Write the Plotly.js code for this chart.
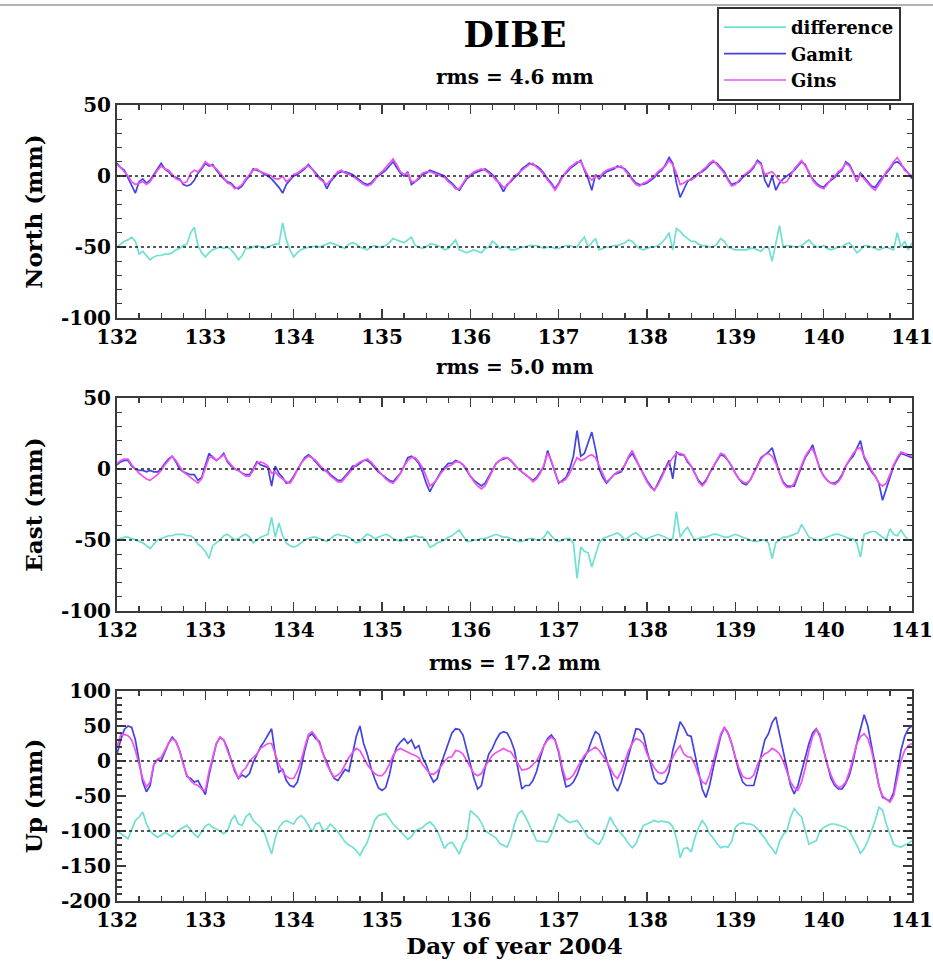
<!DOCTYPE html>
<html>
<head>
<meta charset="utf-8">
<script src="https://cdn.plot.ly/plotly-3.0.1.min.js"></script>
<style>html,body{margin:0;padding:0;background:#fff;}#chart{width:933px;height:964px;}</style>
</head>
<body>
<div id="chart"></div>
<script>
// ---------------- data (hourly samples, day of year 2004) ----------------
const startDay = 132;
const stepDay = 1 / 24;
const seriesNames = ["difference", "Gamit", "Gins"];
const xTickDays = [132, 133, 134, 135, 136, 137, 138, 139, 140, 141];
const neTickVals = [-100, -50, 0, 50];
const neTickText = ["-100", "-50", "0", "50"];
const upTickVals = [-200, -150, -100, -50, 0, 50, 100];
const upTickText = ["-200", "-150", "-100", "-50", "0", "50", "100"];
const rmsLabels = ["rms = 4.6 mm", "rms = 5.0 mm", "rms = 17.2 mm"];
const panelTitles = ["North (mm)", "East (mm)", "Up (mm)"];

const northGamit = [
 9,6,4,-1,-7,-12,-4,-2,-5,-3,1,5,9,5,3,0,-1,-2,-6,-7,-6,-3,2,5,
 9,7,8,4,1,-2,-4,-5,-8,-9,-7,-3,0,5,4,3,1,0,-2,-5,-8,-12,-6,-3,
 0,1,3,5,8,5,2,-1,-3,-9,-4,-1,2,3,3,2,1,-1,-3,-5,-6,-5,-2,0,
 2,4,7,10,6,2,0,3,-6,-4,-2,1,2,4,3,2,1,0,-3,-5,-8,-10,-6,-2,
 0,2,3,4,5,3,1,-2,-6,-11,-6,-4,-1,1,5,7,9,8,7,5,2,-2,-5,-9,
 -5,0,2,5,7,9,11,4,-2,-10,1,-2,1,3,4,5,7,6,5,2,-2,-5,-6,-6,
 -5,-3,-1,2,4,8,13,9,-5,-15,-9,-4,-2,0,2,3,5,8,10,9,6,3,-2,-6,
 -5,-4,-1,1,3,6,11,9,-3,-8,0,-10,-5,-2,0,2,4,7,10,8,2,-2,-5,-7,
 -8,-5,-3,-1,2,4,10,8,3,-4,2,-1,-4,-7,-8,-4,-1,2,5,9,10,8,5,2,
 -2
];
const northGins = [
 8,6,3,0,-4,-6,-5,-4,-6,-4,0,4,7,5,4,1,-2,-3,-5,-4,2,4,3,6,
 10,8,7,5,2,-1,-5,-6,-9,-8,-6,-2,1,4,5,3,2,1,0,-2,-2,0,-4,-2,
 1,2,4,6,7,5,1,-2,-4,-6,-3,0,3,4,2,1,0,-2,-4,-6,-7,-6,-3,1,
 3,6,9,12,8,3,1,2,-4,-4,-1,2,3,3,2,1,0,-1,-4,-6,-9,-9,-5,-1,
 1,3,4,5,4,2,0,-3,-5,-8,-7,-3,0,2,4,6,8,9,6,4,1,-3,-6,-10,
 -6,-1,3,6,8,10,10,5,0,-3,0,-1,2,4,5,6,6,7,4,1,-3,-6,-7,-5,
 -4,-2,0,3,5,7,11,8,2,-6,-5,-3,-3,-1,1,4,6,9,11,8,5,2,-3,-7,
 -6,-3,0,2,4,7,10,8,1,2,3,0,-3,-5,-4,0,5,8,11,7,3,-3,-6,-8,
 -9,-6,-2,0,3,5,9,7,2,-3,1,-2,-5,-8,-10,-6,-2,3,6,10,13,9,4,2,
 0
];
const northDiff = [
 -50,-48,-46,-45,-43,-46,-55,-53,-56,-59,-57,-56,-56,-55,-55,-54,-52,-51,-49,-48,-40,-36,-49,-54,
 -57,-54,-52,-51,-50,-51,-50,-52,-55,-59,-56,-51,-51,-50,-49,-50,-51,-50,-49,-48,-48,-33,-45,-52,
 -57,-54,-52,-51,-50,-50,-49,-50,-49,-48,-47,-48,-49,-50,-51,-48,-47,-48,-50,-51,-52,-50,-49,-50,
 -50,-49,-47,-44,-45,-46,-47,-45,-43,-49,-50,-51,-50,-48,-48,-49,-50,-52,-51,-48,-45,-52,-53,-54,
 -53,-52,-53,-54,-51,-50,-46,-48,-51,-50,-50,-52,-52,-51,-50,-50,-49,-49,-49,-50,-51,-50,-50,-51,
 -51,-50,-49,-49,-50,-50,-46,-43,-50,-47,-44,-52,-51,-50,-50,-49,-49,-48,-47,-45,-46,-49,-51,-52,
 -51,-50,-50,-49,-47,-44,-40,-52,-37,-39,-42,-44,-46,-46,-48,-49,-49,-50,-50,-48,-44,-46,-50,-51,
 -52,-52,-52,-52,-51,-51,-52,-53,-50,-50,-60,-48,-35,-50,-49,-49,-50,-50,-49,-47,-45,-48,-50,-50,
 -49,-51,-52,-51,-50,-50,-48,-47,-50,-54,-52,-49,-49,-50,-51,-52,-51,-50,-51,-52,-40,-50,-46,-52,
 -47
];

const eastGamit = [
 3,5,6,6,2,0,-1,-1,-2,-1,-2,-2,0,4,7,9,5,0,-2,-3,-4,-4,-8,-6,
 3,11,8,6,8,11,5,2,0,-1,-3,-4,-4,0,5,3,2,1,-12,2,-3,-6,-10,-9,
 -5,0,4,8,10,8,5,2,-1,-1,-4,-6,-8,-8,-5,-2,2,2,4,6,6,4,1,-2,
 -4,-6,-8,-9,-6,-3,2,8,9,7,4,-2,-10,-16,-11,-6,-2,1,4,4,6,5,3,-1,
 -5,-8,-10,-12,-10,-5,0,4,6,7,8,6,3,0,-2,-4,-6,-8,-6,-2,2,13,5,-3,
 -10,-8,-6,0,9,27,9,11,18,26,14,0,-6,-10,-7,-4,-3,-2,3,8,11,6,1,-4,
 -8,-12,-15,-10,-5,0,6,-7,12,10,10,5,2,-3,-8,-11,-8,-3,2,6,10,9,6,2,
 -3,-7,-10,-11,-8,-3,3,8,10,12,15,5,-3,-9,-12,-12,-12,-5,2,8,12,17,8,0,
 -5,-8,-10,-10,-8,-4,2,6,9,14,20,8,3,-2,-5,-10,-22,-14,-5,2,7,11,10,9,
 8
];
const eastGins = [
 4,6,7,7,3,0,-3,-5,-7,-8,-6,-4,-1,3,6,9,6,2,-2,-4,-6,-8,-10,-7,
 0,8,9,6,8,10,6,3,0,-1,-3,-5,-5,-1,4,5,4,2,-3,-2,-5,-7,-9,-10,
 -6,-1,4,7,9,8,6,3,0,-2,-5,-7,-9,-9,-6,-3,0,3,5,6,7,5,2,-1,
 -4,-7,-9,-10,-7,-3,2,6,8,8,5,1,-5,-12,-10,-7,-3,0,2,3,5,5,3,0,
 -5,-9,-12,-14,-12,-7,-1,4,6,8,8,6,3,0,-2,-4,-6,-9,-7,-3,3,11,6,-2,
 -9,-9,-7,-3,3,8,6,7,9,10,8,2,-4,-9,-7,-4,-2,-1,3,9,13,7,1,-4,
 -9,-13,-15,-11,-6,0,4,8,11,11,10,6,2,-3,-9,-12,-9,-3,2,7,11,10,6,2,
 -3,-7,-9,-10,-8,-3,3,7,10,11,9,4,-3,-10,-13,-13,-10,-4,3,9,13,14,8,0,
 -5,-8,-10,-11,-9,-5,2,7,11,14,15,9,4,-1,-5,-10,-12,-10,-4,3,8,12,11,10,
 9
];
const eastDiff = [
 -50,-49,-48,-48,-49,-50,-51,-52,-54,-56,-53,-50,-49,-48,-47,-47,-46,-46,-46,-47,-47,-49,-53,-55,
 -58,-63,-54,-52,-50,-47,-46,-48,-50,-49,-47,-46,-48,-52,-50,-48,-47,-46,-34,-48,-38,-47,-52,-54,
 -55,-54,-52,-50,-49,-48,-48,-49,-50,-51,-49,-47,-46,-47,-47,-48,-50,-52,-51,-48,-46,-47,-49,-48,
 -47,-46,-47,-49,-50,-51,-50,-48,-48,-47,-48,-48,-50,-55,-54,-52,-51,-50,-48,-47,-45,-43,-47,-51,
 -51,-50,-50,-49,-49,-48,-47,-46,-47,-48,-48,-49,-50,-51,-51,-50,-49,-49,-50,-50,-48,-44,-47,-50,
 -51,-50,-49,-49,-52,-77,-55,-58,-59,-69,-60,-52,-49,-48,-47,-46,-45,-47,-50,-48,-46,-45,-47,-49,
 -49,-48,-47,-46,-47,-48,-50,-49,-30,-48,-44,-41,-46,-50,-49,-48,-48,-47,-46,-46,-47,-48,-48,-47,
 -46,-47,-48,-49,-50,-51,-51,-50,-50,-52,-63,-52,-50,-48,-48,-47,-46,-45,-39,-44,-48,-49,-50,-50,
 -49,-48,-47,-46,-46,-47,-48,-49,-49,-52,-62,-46,-45,-44,-44,-46,-48,-50,-42,-46,-47,-43,-47,-50,
 -50
];

const upGamit = [
 10,30,45,50,48,30,0,-30,-44,-35,-5,2,0,12,25,34,28,15,-5,-22,-25,-30,-28,-38,
 -48,-20,5,25,34,30,18,0,-15,-25,-20,-23,-18,-2,10,20,28,38,46,10,-16,-12,-28,-35,
 -37,-30,-10,15,35,39,32,28,10,-1,-15,-25,-28,-20,-12,-15,10,35,50,25,10,-10,-25,-38,
 -42,-38,-20,5,20,27,32,25,30,18,22,5,-5,-20,-30,-25,-5,10,25,40,46,45,37,15,
 -5,-25,-40,-35,-10,10,18,30,39,42,40,30,15,-10,-40,-35,-35,-28,-15,5,22,32,37,30,
 12,-15,-37,-35,-30,-20,-5,5,15,30,42,38,20,5,-15,-35,-43,-30,-10,10,30,46,45,38,
 15,-5,-25,-32,-33,-30,-15,15,35,56,48,37,35,10,-20,-40,-52,-35,-10,15,35,48,40,25,
 5,-15,-30,-35,-35,-35,-15,10,30,39,55,63,40,15,-10,-35,-47,-35,-15,5,25,40,46,35,
 15,-5,-25,-35,-40,-40,-32,-20,0,25,45,66,50,20,-10,-35,-52,-55,-57,-45,-15,15,35,46,
 50
];
const upGins = [
 20,37,38,36,30,15,-5,-25,-37,-30,-5,3,5,15,25,32,28,15,-5,-20,-28,-33,-35,-40,
 -42,-15,5,25,34,30,15,0,-12,-25,-15,-10,0,5,10,18,22,25,25,10,-5,-15,-22,-25,
 -25,-15,0,20,38,42,35,25,10,-5,-15,-23,-20,-15,-5,5,12,18,15,5,-5,-12,-18,-21,
 -21,-15,-5,8,15,18,15,12,10,8,5,-5,-12,-18,-19,-15,-8,0,5,6,15,14,10,0,
 -10,-18,-21,-18,-8,0,8,12,15,18,15,13,5,-5,-13,-12,-10,-5,0,10,22,30,34,30,
 15,-10,-27,-25,-20,-10,0,8,13,17,20,15,8,0,-10,-20,-25,-15,0,15,25,32,30,25,
 10,0,-10,-16,-18,-15,-5,5,15,22,10,6,5,-5,-20,-30,-33,-20,0,20,38,48,40,25,
 5,-10,-22,-25,-25,-20,-5,5,10,13,18,15,10,0,-15,-30,-38,-42,-30,-10,15,35,45,38,
 15,-5,-20,-32,-38,-36,-30,-15,5,25,35,39,32,15,-10,-35,-50,-55,-59,-50,-25,0,15,22,
 25
];
const upDiff = [
 -100,-104,-108,-111,-98,-85,-80,-73,-90,-100,-105,-109,-106,-102,-105,-109,-103,-98,-95,-92,-98,-105,-109,-100,
 -93,-90,-95,-97,-100,-104,-100,-85,-78,-90,-92,-80,-75,-85,-90,-95,-102,-118,-133,-110,-95,-88,-85,-88,
 -90,-82,-78,-83,-92,-101,-90,-88,-100,-97,-90,-95,-101,-108,-116,-120,-123,-128,-135,-125,-116,-100,-85,-78,
 -76,-75,-82,-90,-95,-100,-106,-112,-108,-100,-98,-95,-90,-87,-92,-100,-112,-125,-118,-116,-124,-133,-118,-110,
 -71,-75,-80,-88,-100,-103,-107,-110,-118,-120,-123,-110,-90,-75,-71,-80,-90,-102,-114,-115,-116,-116,-105,-90,
 -76,-80,-85,-88,-86,-85,-92,-100,-109,-112,-117,-119,-110,-95,-80,-90,-98,-104,-110,-118,-124,-118,-105,-92,
 -90,-88,-85,-87,-86,-87,-88,-94,-110,-138,-125,-124,-130,-110,-95,-85,-92,-104,-110,-118,-124,-122,-123,-115,
 -95,-90,-88,-90,-90,-92,-97,-104,-110,-119,-125,-133,-115,-105,-100,-80,-68,-75,-80,-100,-119,-116,-114,-100,
 -95,-92,-90,-90,-92,-94,-95,-100,-109,-120,-132,-125,-114,-100,-85,-66,-70,-90,-105,-119,-122,-123,-120,-118,
 -114
];

// reference (dotted) levels and axis ranges per panel
const northRefLevels = [0, -50];
const eastRefLevels = [0, -50];
const upRefLevels = [0, -100];
const northRange = [-100, 50];
const eastRange = [-100, 50];
const upRange = [-200, 100];
const dayRange = [132, 141];

// ---------------- styling ----------------
const W = 933, H = 964;
const colors = { difference: "#6fe0d3", Gamit: "#4343e3", Gins: "#ef52ef" };
const serif = "DejaVu Serif";
const axisColor = "#3a3a3a";

const xDom = [117 / W, 912 / W];
const yDoms = [
  [1 - 318 / H, 1 - 105 / H],
  [1 - 611 / H, 1 - 398 / H],
  [1 - 901 / H, 1 - 691 / H]
];

const panels = [
  { diff: northDiff, gamit: northGamit, gins: northGins, refs: northRefLevels, range: northRange, tv: neTickVals, tt: neTickText },
  { diff: eastDiff, gamit: eastGamit, gins: eastGins, refs: eastRefLevels, range: eastRange, tv: neTickVals, tt: neTickText },
  { diff: upDiff, gamit: upGamit, gins: upGins, refs: upRefLevels, range: upRange, tv: upTickVals, tt: upTickText }
];

const traces = [];
const shapes = [];
panels.forEach((p, i) => {
  const xa = i === 0 ? "x" : "x" + (i + 1);
  const ya = i === 0 ? "y" : "y" + (i + 1);
  const series = [["difference", p.diff], ["Gamit", p.gamit], ["Gins", p.gins]];
  series.forEach(([name, vals]) => {
    traces.push({
      type: "scatter", mode: "lines", name: name,
      x0: startDay, dx: stepDay, y: vals,
      xaxis: xa, yaxis: ya,
      line: { color: colors[name], width: 1.7 },
      showlegend: i === 0, legendgroup: name
    });
  });
  p.refs.forEach(v => {
    shapes.push({
      type: "line", xref: xa, yref: ya, x0: dayRange[0], x1: dayRange[1], y0: v, y1: v,
      line: { color: "#222", width: 1.6, dash: "dot" }, layer: "above"
    });
  });
});

// light border line at the top of the figure
shapes.push({ type: "line", xref: "paper", yref: "paper", x0: 0, x1: 1, y0: 1 - 5 / H, y1: 1 - 5 / H,
  line: { color: "#9a9a9a", width: 1.5 } });

const tickFont = { family: serif, size: 20, color: "#000", weight: "bold" };

function xAxis(i) {
  const ax = {
    domain: xDom, range: dayRange, anchor: i === 0 ? "y" : "y" + (i + 1),
    tickvals: xTickDays, ticktext: xTickDays.map(String),
    showline: true, linecolor: axisColor, linewidth: 2, mirror: "allticks",
    ticks: "inside", ticklen: 9, tickwidth: 1.5, tickcolor: axisColor,
    minor: { dtick: 0.25, tick0: 132, ticks: "inside", ticklen: 5, tickwidth: 1.3, tickcolor: axisColor, showgrid: false },
    showgrid: false, zeroline: false, tickfont: tickFont, fixedrange: true
  };
  if (i === 2) {
    ax.title = { text: "Day of year 2004", font: { family: serif, size: 23, color: "#000", weight: "bold" }, standoff: 3 };
  }
  return ax;
}
function yAxis(i) {
  return {
    domain: yDoms[i], range: panels[i].range, anchor: i === 0 ? "x" : "x" + (i + 1),
    tickvals: panels[i].tv, ticktext: panels[i].tt,
    showline: true, linecolor: axisColor, linewidth: 2, mirror: "allticks",
    ticks: "inside", ticklen: 9, tickwidth: 1.5, tickcolor: axisColor,
    minor: { dtick: 10, tick0: 0, ticks: "inside", ticklen: 5, tickwidth: 1.3, tickcolor: axisColor, showgrid: false },
    showgrid: false, zeroline: false, tickfont: tickFont, fixedrange: true,
    title: { text: panelTitles[i], font: { family: serif, size: 23, color: "#000", weight: "bold" }, standoff: 12 }
  };
}

const rmsY = [1 - 77 / H, 1 - 367 / H, 1 - 663 / H];
const annotations = rmsLabels.map((t, i) => ({
  text: t, xref: "paper", yref: "paper", x: 515 / W, y: rmsY[i],
  xanchor: "center", yanchor: "middle", showarrow: false,
  font: { family: serif, size: 20, color: "#000", weight: "bold" }
}));

const layout = {
  width: W, height: H,
  margin: { l: 0, r: 0, t: 0, b: 0 },
  paper_bgcolor: "#fff", plot_bgcolor: "#fff",
  title: { text: "DIBE", xref: "paper", yref: "paper", x: 515 / W, xanchor: "center", y: 1 - 35 / H, yanchor: "middle",
    font: { family: serif, size: 35, color: "#000", weight: "bold" } },
  showlegend: true,
  legend: {
    x: 717 / W, y: 1 - 7 / H, xanchor: "left", yanchor: "top",
    bordercolor: "#333", borderwidth: 2, bgcolor: "#fff",
    font: { family: serif, size: 18, color: "#000", weight: "bold" },
    itemwidth: 62, tracegroupgap: 0
  },
  xaxis: xAxis(0), xaxis2: xAxis(1), xaxis3: xAxis(2),
  yaxis: yAxis(0), yaxis2: yAxis(1), yaxis3: yAxis(2),
  shapes: shapes, annotations: annotations,
  hovermode: false
};

Plotly.newPlot("chart", traces, layout, { staticPlot: true, displayModeBar: false });
</script>
</body>
</html>
